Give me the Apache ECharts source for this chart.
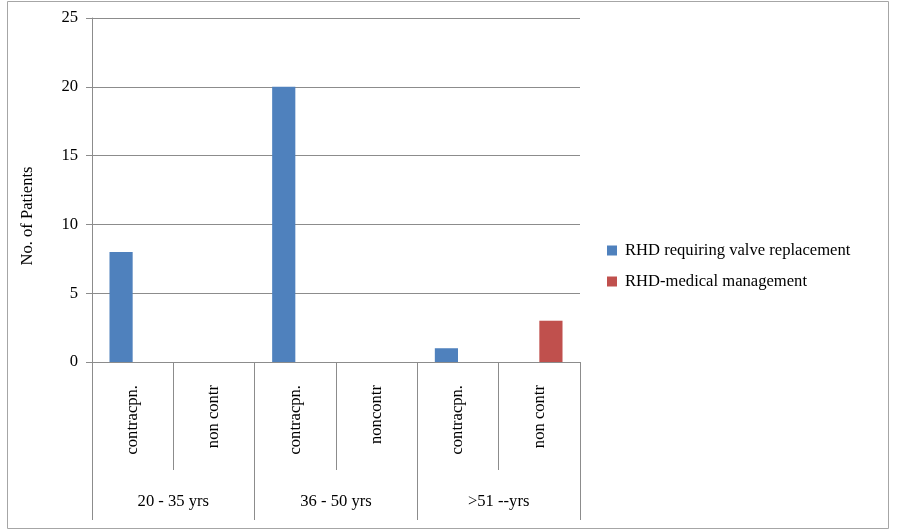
<!DOCTYPE html>
<html>
<head>
<meta charset="utf-8">
<script src="https://cdn.jsdelivr.net/npm/echarts@6/dist/echarts.min.js"></script>
<style>html,body{margin:0;padding:0;background:#fff}#c{width:902px;height:530px}</style>
</head>
<body>
<div id="c"></div>
<script>
const subCategories = ['contracpn.', 'non contr', 'contracpn.', 'noncontr', 'contracpn.', 'non contr'];
const groupCategories = ['20 - 35 yrs', '36 - 50 yrs', '>51 --yrs'];
const seriesNames = ['RHD requiring valve replacement', 'RHD-medical management'];
const valveReplacement = [8, 0, 20, 0, 1, 0];
const medicalManagement = [0, 0, 0, 0, 0, 3];
const yTicks = [0, 5, 10, 15, 20, 25];

const FONT = 'Liberation Serif';
const FS = 16.6;
const GRAY = '#8c8c8c';
const chart = echarts.init(document.getElementById('c'), null, {renderer: 'canvas'});
chart.setOption({
  animation: false,
  backgroundColor: '#fff',
  textStyle: {fontFamily: FONT},
  grid: {left: 92, right: 322, top: 18, bottom: 168, containLabel: false},
  xAxis: [{
    type: 'category', data: subCategories, position: 'bottom',
    axisLine: {show: true, lineStyle: {color: GRAY, width: 1}},
    axisTick: {show: true, interval: 0, length: 108, lineStyle: {color: GRAY}},
    axisLabel: {interval: 0, rotate: 90, margin: 23, fontFamily: FONT, fontSize: FS, color: '#000'},
    splitLine: {show: false}
  }, {
    type: 'category', data: groupCategories, position: 'bottom',
    axisLine: {show: true, lineStyle: {color: GRAY, width: 1}},
    axisTick: {show: true, interval: 0, length: 158, lineStyle: {color: GRAY}},
    axisLabel: {interval: 0, margin: 131, fontFamily: FONT, fontSize: FS, color: '#000'},
    splitLine: {show: false}
  }],
  yAxis: {
    type: 'value', min: yTicks[0], max: yTicks[yTicks.length - 1], interval: 5,
    axisLine: {show: true, lineStyle: {color: GRAY}},
    axisTick: {show: true, length: 6, lineStyle: {color: GRAY}},
    axisLabel: {margin: 14, fontFamily: FONT, fontSize: FS, color: '#000'},
    splitLine: {show: true, lineStyle: {color: GRAY, width: 1}}
  },
  legend: {
    orient: 'vertical', left: 602, top: 237,
    itemWidth: 10, itemHeight: 10, itemGap: 14,
    icon: 'rect',
    textStyle: {fontFamily: FONT, fontSize: FS, color: '#000', padding: [0, 0, 0, 3]},
    data: seriesNames
  },
  series: [{
    name: seriesNames[0], type: 'bar', xAxisIndex: 0, data: valveReplacement,
    barGap: '0%', barCategoryGap: '43%',
    itemStyle: {color: '#4F81BD'}
  }, {
    name: seriesNames[1], type: 'bar', xAxisIndex: 0, data: medicalManagement,
    barGap: '0%', barCategoryGap: '43%',
    itemStyle: {color: '#C0504D'}
  }],
  graphic: [{
    type: 'rect', shape: {x: 7.5, y: 1.5, width: 881, height: 527},
    style: {fill: 'none', stroke: '#a6a6a6', lineWidth: 1}, silent: true, z: -1
  }, {
    type: 'text', x: 28, y: 216, rotation: Math.PI / 2,
    style: {text: 'No. of Patients', font: '16.6px "Liberation Serif"', fill: '#000', textAlign: 'center', textVerticalAlign: 'middle'}
  }]
});
</script>
</body>
</html>
